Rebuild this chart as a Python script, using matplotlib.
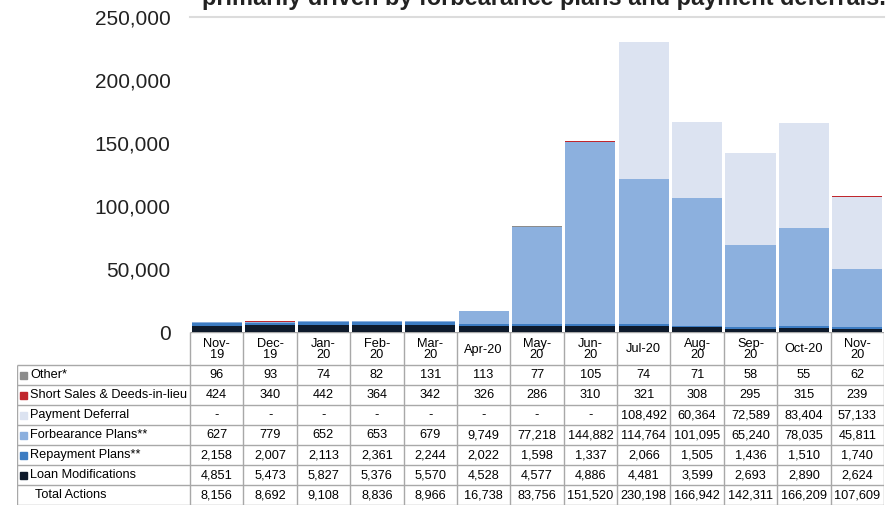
import numpy as np
import matplotlib.pyplot as plt
from matplotlib.patches import Rectangle

plt.rcParams['font.family'] = ['Liberation Sans', 'DejaVu Sans']

# Datos
meses = ["Nov-\n19", "Dec-\n19", "Jan-\n20", "Feb-\n20", "Mar-\n20", "Apr-20", "May-\n20",
         "Jun-\n20", "Jul-20", "Aug-\n20", "Sep-\n20", "Oct-20", "Nov-\n20"]
loan_mods = [4851, 5473, 5827, 5376, 5570, 4528, 4577, 4886, 4481, 3599, 2693, 2890, 2624]
repayment = [2158, 2007, 2113, 2361, 2244, 2022, 1598, 1337, 2066, 1505, 1436, 1510, 1740]
forbearance = [627, 779, 652, 653, 679, 9749, 77218, 144882, 114764, 101095, 65240, 78035, 45811]
deferral = [None, None, None, None, None, None, None, None, 108492, 60364, 72589, 83404, 57133]
short_sales = [424, 340, 442, 364, 342, 326, 286, 310, 321, 308, 295, 315, 239]
other = [96, 93, 74, 82, 131, 113, 77, 105, 74, 71, 58, 55, 62]
total = [8156, 8692, 9108, 8836, 8966, 16738, 83756, 151520, 230198, 166942, 142311, 166209, 107609]

series = [
    ("Loan Modifications", loan_mods, "#0e1a2b"),
    ("Repayment Plans**", repayment, "#3d7cc2"),
    ("Forbearance Plans**", forbearance, "#8cb0de"),
    ("Payment Deferral", deferral, "#dce3f1"),
    ("Short Sales & Deeds-in-lieu", short_sales, "#c0272d"),
    ("Other*", other, "#8c8c8c"),
]

W, H = 895, 505
fig = plt.figure(figsize=(W / 100, H / 100), dpi=100)

# Ejes del gráfico
ax = fig.add_axes([190 / W, 1 - 332 / H, (884 - 190) / W, (332 - 17) / H])
x = np.arange(len(meses))
base = np.zeros(len(meses))
for nombre, vals, color in series:
    v = np.array([0 if a is None else a for a in vals], dtype=float)
    ax.bar(x, v, bottom=base, width=0.94, color=color, edgecolor="none")
    base += v

ax.set_xlim(-0.5, len(meses) - 0.5)
ax.set_ylim(0, 250000)
ax.axhline(250000, color="#dcdcdc", lw=1.5, clip_on=False)
ax.set_yticks(np.arange(0, 250001, 50000))
ax.set_yticklabels([f"{int(t):,}" for t in ax.get_yticks()], fontsize=15, color="#222222")
ax.tick_params(axis="y", length=0, pad=14)
ax.set_xticks([])
for s in ax.spines.values():
    s.set_visible(False)

# Título (cortado arriba)
fig.text(202 / W, 1 - 5 / H, "primarily driven by forbearance plans and payment deferrals.",
         fontsize=16.9, fontweight="bold", color="#222222", ha="left", va="baseline")

# Tabla
ncol = len(meses)
cw = (884 - 190) / ncol
lab_w = (190 - 17) / cw
tax = fig.add_axes([17 / W, 0, (884 - 17) / W, 173 / H])
tax.set_xlim(-0.5 - lab_w, ncol - 0.5)
tax.set_ylim(173, 0)
tax.axis("off")

gris = "#a8a8a8"
fs = 9.2
hdr = 33
rows = [(n, v, c) for n, v, c in series[::-1]] + [("Total Actions", total, None)]

# líneas
tax.hlines(0, -0.5, ncol - 0.5, color=gris, lw=1)
for i in range(len(rows) + 1):
    y = hdr + 20 * i
    tax.hlines(y, -0.5 - lab_w, ncol - 0.5, color=gris, lw=1)
tax.vlines(-0.5 - lab_w, hdr, 173, color=gris, lw=1)
for j in range(ncol + 1):
    tax.vlines(j - 0.5, 0, 173, color=gris, lw=1)

for j, m in enumerate(meses):
    tax.text(j, hdr / 2 + 1, m, ha="center", va="center", fontsize=fs, linespacing=0.9)

for i, (nombre, vals, color) in enumerate(rows):
    yc = hdr + 20 * i + 10
    if color is not None:
        tax.add_patch(Rectangle((-0.5 - lab_w + 3 / cw, yc - 3.5), 7 / cw, 7, color=color))
        tax.text(-0.5 - lab_w + 13 / cw, yc, nombre, ha="left", va="center", fontsize=fs)
    else:
        tax.text(-0.5 - lab_w + 18 / cw, yc, nombre, ha="left", va="center", fontsize=fs)
    for j, v in enumerate(vals):
        s = "-" if v is None else f"{v:,}"
        tax.text(j, yc, s, ha="center", va="center", fontsize=fs)

fig.savefig("out.png", dpi=100)
